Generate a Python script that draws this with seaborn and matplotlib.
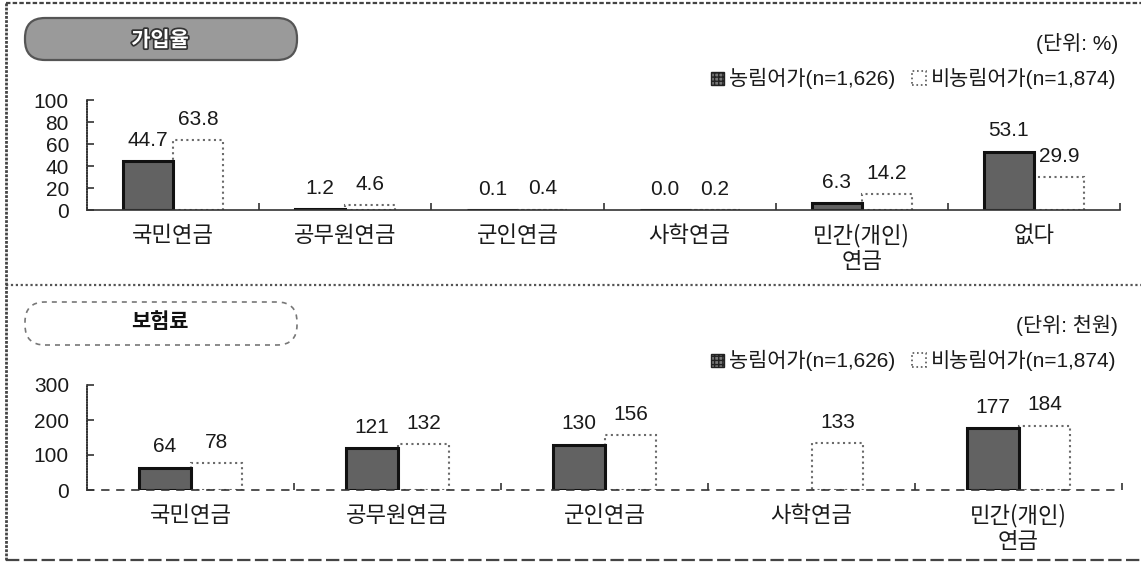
import numpy as np
import pandas as pd
import matplotlib
matplotlib.use("Agg")
import matplotlib.pyplot as plt
import seaborn as sns
from matplotlib.patches import FancyBboxPatch, Rectangle
from matplotlib.lines import Line2D
from matplotlib.transforms import IdentityTransform
import matplotlib.patheffects as pe

# ---------------- data ----------------
top_categories = ["국민연금", "공무원연금", "군인연금", "사학연금", "민간(개인)\n연금", "없다"]
top_farm = [44.7, 1.2, 0.1, 0.0, 6.3, 53.1]
top_nonfarm = [63.8, 4.6, 0.4, 0.2, 14.2, 29.9]
top_yticks = [0, 20, 40, 60, 80, 100]

bottom_categories = ["국민연금", "공무원연금", "군인연금", "사학연금", "민간(개인)\n연금"]
bottom_farm = [64, 121, 130, np.nan, 177]
bottom_nonfarm = [78, 132, 156, 133, 184]
bottom_yticks = [0, 100, 200, 300]

groups = ["농림어가(n=1,626)", "비농림어가(n=1,874)"]
top_title = "가입율"
bottom_title = "보험료"
top_unit = "(단위: %)"
bottom_unit = "(단위: 천원)"

# ---------------- style ----------------
sns.set_style("white")
plt.rcParams["font.family"] = ["Liberation Sans", "Noto Sans CJK KR", "DejaVu Sans"]
plt.rcParams["axes.unicode_minus"] = False

DARK = "#626262"
TXT = "#1a1a1a"
KFONT = ["Noto Sans CJK KR", "DejaVu Sans"]

W, H = 1141, 562
fig = plt.figure(figsize=(W / 100, H / 100), dpi=100)
fig.patch.set_facecolor("white")


def rect(x0, ytop, x1, ybot):
    return [x0 / W, 1 - ybot / H, (x1 - x0) / W, (ybot - ytop) / H]


def draw_panel(ax, cats, farm, nonfarm, yticks, width, fmt, base_ls):
    n = len(cats)
    df = pd.DataFrame({
        "cat": list(cats) * 2,
        "grp": [groups[0]] * n + [groups[1]] * n,
        "val": list(farm) + list(nonfarm),
    })
    sns.barplot(data=df, x="cat", y="val", hue="grp", order=cats, hue_order=groups,
                palette={groups[0]: DARK, groups[1]: "white"}, width=width, gap=0,
                saturation=1, legend=False, errorbar=None, ax=ax)
    conts = ax.containers
    for p in conts[1]:
        p.set_edgecolor("#6a6a6a")
        p.set_linewidth(1.5)
        p.set_linestyle(":")
        p.set_zorder(2)
    for p in conts[0]:
        p.set_edgecolor("#111111")
        p.set_linewidth(2.2)
        p.set_zorder(3)
    for c in conts:
        labs = ["" if np.isnan(v) else fmt.format(v) for v in c.datavalues]
        ax.bar_label(c, labels=labs, padding=8, fontsize=15, color=TXT)

    ax.set_xlim(-0.5, n - 0.5)
    ax.set_ylim(yticks[0], yticks[-1])
    ax.set_yticks(yticks)
    ax.set_xlabel("")
    ax.set_ylabel("")
    sns.despine(ax=ax)
    ax.spines["left"].set_color("#333333")
    ax.spines["left"].set_linewidth(1.2)
    ax.spines["left"].set_linestyle((0, (1, 0.6)))
    ax.spines["bottom"].set_color("#333333")
    ax.spines["bottom"].set_linewidth(1.2)
    ax.spines["bottom"].set_linestyle(base_ls)
    ax.spines["bottom"].set_zorder(4)
    ax.tick_params(axis="y", left=True, direction="in", length=5, width=1.2, pad=13,
                   labelsize=15, colors="#333333", labelcolor=TXT)
    ax.tick_params(axis="x", which="major", bottom=False, length=0, pad=10)
    ax.set_xticks(np.arange(n) + 0.5, minor=True)
    ax.tick_params(axis="x", which="minor", bottom=True, direction="in", length=5,
                   width=1.2, color="#333333")
    for lbl in ax.get_xticklabels():
        lbl.set_fontfamily(KFONT)
        lbl.set_fontsize(16)
        lbl.set_color(TXT)
        lbl.set_linespacing(1.15)
    ax.set_facecolor("none")


ax1 = fig.add_axes(rect(87, 100, 1120, 210))
draw_panel(ax1, top_categories, top_farm, top_nonfarm, top_yticks, 0.58, "{:.1f}", "-")

ax2 = fig.add_axes(rect(87, 385, 1122, 490))
draw_panel(ax2, bottom_categories, bottom_farm, bottom_nonfarm, bottom_yticks, 0.50, "{:.0f}",
           (0, (4, 5)))

ident = IdentityTransform()

# ---------------- frame lines ----------------
def hline(y, x0, x1, **kw):
    fig.add_artist(Line2D([x0, x1], [H - y, H - y], transform=ident, **kw))


def vline(x, y0, y1, **kw):
    fig.add_artist(Line2D([x, x], [H - y0, H - y1], transform=ident, **kw))


hline(3, 6, W, color="#444444", lw=1.6, linestyle=(0, (2, 1)))
hline(560, 6, W, color="#444444", lw=1.6, linestyle=(0, (6, 2)))
hline(285, 6, W, color="#555555", lw=1.6, linestyle=(0, (1, 1.2)))
vline(6, 3, 560, color="#444444", lw=2.0, linestyle=(0, (1, 0.5)))

# ---------------- title boxes ----------------
box1 = FancyBboxPatch((25, H - 60), 272, 42, boxstyle="round,pad=0,rounding_size=20",
                      transform=ident, facecolor="#9a9a9a", edgecolor="#555555", lw=1.6)
fig.add_artist(box1)
fig.text(160 / W, 1 - 40 / H, top_title, ha="center", va="center", fontsize=15,
         fontweight="bold", color="white", family=KFONT,
         path_effects=[pe.withStroke(linewidth=2.5, foreground="#333333")])

box2 = FancyBboxPatch((25, H - 345), 272, 43, boxstyle="round,pad=0,rounding_size=20",
                      transform=ident, facecolor="white", edgecolor="#777777", lw=1.2,
                      linestyle=(0, (3, 3)))
fig.add_artist(box2)
fig.text(160 / W, 1 - 322 / H, bottom_title, ha="center", va="center", fontsize=15,
         fontweight="bold", color="#111111", family=KFONT)

# ---------------- unit texts & legends ----------------
renderer = fig.canvas.get_renderer()


def legend_row(unit, y_unit, y_leg):
    fig.text(1118 / W, 1 - y_unit / H, unit, ha="right", va="center", fontsize=15, color=TXT)
    t2 = fig.text(1116 / W, 1 - y_leg / H, groups[1], ha="right", va="center",
                  fontsize=15, color=TXT)
    bb2 = t2.get_window_extent(renderer)
    m2x = bb2.x0 - 5 - 14
    fig.add_artist(Rectangle((m2x, H - y_leg - 7), 14, 14, transform=ident,
                             facecolor="white", edgecolor="#555555", lw=1.2, linestyle=":"))
    t1 = fig.text((m2x - 16) / W, 1 - y_leg / H, groups[0], ha="right", va="center",
                  fontsize=15, color=TXT)
    bb1 = t1.get_window_extent(renderer)
    m1x = bb1.x0 - 5 - 13
    fig.add_artist(Rectangle((m1x, H - y_leg - 6.5), 13, 13, transform=ident,
                             facecolor="#777777", edgecolor="#222222", lw=1.0, hatch="++++"))


legend_row(top_unit, 43, 78)
legend_row(bottom_unit, 325, 360)

fig.savefig("out.png", dpi=100, facecolor="white")
